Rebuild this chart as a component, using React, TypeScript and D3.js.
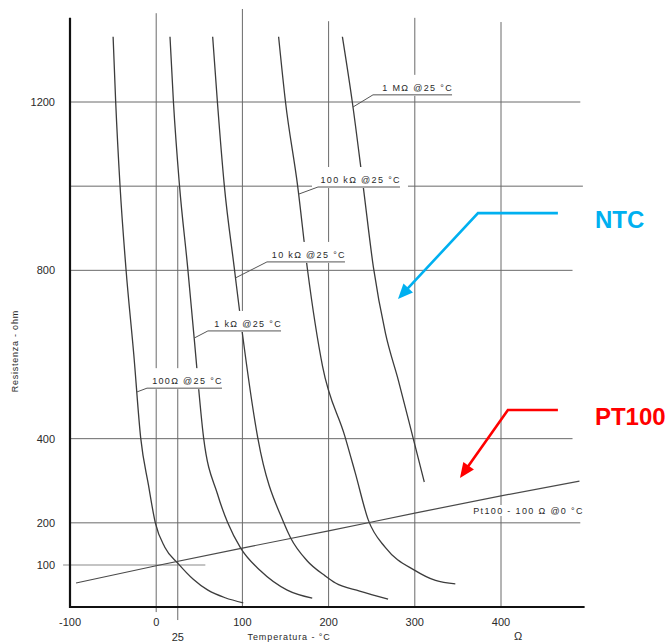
import React from 'react';
import * as d3 from 'd3';

// ---- data: temperature (°C) and resistance (Ω) ----
const ntc100Temps = [-50, -47, -42, -35, -26, -18, -9, -1, 10, 26, 43, 60, 80, 101];
const ntc100Ohms = [1355, 1200, 1002, 802, 600, 402, 290, 200, 142, 102, 66, 40, 22, 10];
const ntc1kTemps = [16, 20, 27, 36.5, 44, 55, 71, 83, 98, 121, 152, 181];
const ntc1kOhms = [1355, 1200, 1002, 807, 640, 402, 269, 200, 140, 86, 40, 21];
const ntc10kTemps = [65.5, 71, 79, 90.5, 100, 118, 148, 156, 175, 196, 208, 236, 269];
const ntc10kOhms = [1355, 1200, 1002, 807, 650, 400, 200, 164, 110, 74, 57, 38, 19];
const ntc100kTemps = [142, 150, 164, 175.5, 193, 219, 231, 246, 266, 300, 324, 347];
const ntc100kOhms = [1355, 1200, 1002, 802, 572, 405, 318, 207, 141, 87, 63, 55];
const ntc1MTemps = [216, 227.5, 240, 252, 266, 281, 298, 311];
const ntc1MOhms = [1355, 1200, 1002, 807, 650, 538, 402, 297];
const pt100Temps = [-93, 0, 100, 200, 300, 400, 491];
const pt100Ohms = [57, 98, 140, 181, 223, 264, 299];

const ntcNames = ['100Ω @25 °C', '1 kΩ @25 °C', '10 kΩ @25 °C', '100 kΩ @25 °C', '1 MΩ @25 °C'];
const ptName = 'Pt100 - 100 Ω @0 °C';
// label underline start / end (°C) and level (Ω), pointer target level on curve (Ω)
const ntcLabelTemps = [-10.7, 60, 128.5, 187.7, 251.5];
const ntcLabelEndTemps = [76.3, 144.8, 219, 282.8, 343.2];
const ntcLabelOhms = [520, 656, 820, 998, 1217];
const ntcPointerOhms = [511, 639, 782, 981, 1188];
const ptLabelEndTemp = 495;
const ptLabelOhm = 221;

const xTicks = [-100, 0, 100, 200, 300, 400];
const xExtraTick = 25;
const yTicks = [100, 200, 400, 800, 1200];
const yGrid = [200, 400, 800, 1000, 1200];
const yGridEnds = [492, 483, 483, 495, 492];
const xGrid = [0, 25, 100, 200, 300, 400];
const xGridTops = [1411, 1000, 1421, 1392, 1400, 1390];
const xGridBottoms = [-12, -31, 0, 0, 0, 0];

// callouts (°C, Ω)
const ntcArrowTemps = [466, 373.3, 280.5];
const ntcArrowOhms = [936, 936, 732];
const ptArrowTemps = [466, 408, 352.4];
const ptArrowOhms = [468, 468, 306.6];
const calloutTemp = 509;
const ntcCalloutOhm = 901;
const ptCalloutOhm = 432;

const FONT = "'Liberation Sans', Arial, Helvetica, sans-serif";

type P = [number, number];
const zip = (a: number[], b: number[]): P[] => a.map((v, i) => [v, b[i]] as P);

function tempAtOhm(series: P[], r: number): number {
  for (let i = 0; i < series.length - 1; i++) {
    const [t0, r0] = series[i];
    const [t1, r1] = series[i + 1];
    if ((r0 >= r && r >= r1) || (r0 <= r && r <= r1)) {
      const f = (r - r0) / (r1 - r0);
      return t0 + f * (t1 - t0);
    }
  }
  return series[0][0];
}

export default function App() {
  const x = d3.scaleLinear().domain([-100, 400]).range([70, 501]);
  const y = d3.scaleLinear().domain([0, 1200]).range([607, 102]);
  const curve = d3
    .line<P>()
    .x((d) => x(d[0]))
    .y((d) => y(d[1]))
    .curve(d3.curveMonotoneX);
  const straight = d3.line<P>().x((d) => d[0]).y((d) => d[1]);

  const ntcSeries: P[][] = [
    zip(ntc100Temps, ntc100Ohms),
    zip(ntc1kTemps, ntc1kOhms),
    zip(ntc10kTemps, ntc10kOhms),
    zip(ntc100kTemps, ntc100kOhms),
    zip(ntc1MTemps, ntc1MOhms),
  ];
  const ptSeries = zip(pt100Temps, pt100Ohms);

  const arrow = (temps: number[], ohms: number[]) => {
    const px: P[] = temps.map((t, i) => [x(t), y(ohms[i])]);
    const n = px.length;
    const [tx, ty] = px[n - 1];
    const [sx, sy] = px[n - 2];
    const dx = tx - sx;
    const dy = ty - sy;
    const L = Math.hypot(dx, dy);
    const ux = dx / L;
    const uy = dy / L;
    const len = 15;
    const half = 6.5;
    const bx = tx - ux * len;
    const by = ty - uy * len;
    const head = `M${tx},${ty}L${bx - uy * half},${by + ux * half}L${bx + uy * half},${by - ux * half}Z`;
    const shaft = straight([...px.slice(0, n - 1), [bx + ux * 2, by + uy * 2]]) || '';
    return { shaft, head };
  };
  const ntcArrow = arrow(ntcArrowTemps, ntcArrowOhms);
  const ptArrow = arrow(ptArrowTemps, ptArrowOhms);

  const x0 = x(-100);
  const yAxisTop = y(1400);
  const xAxisRight = x(497);
  const yBase = y(0);

  const gridColor = '#6a6a6a';
  const curveColor = '#3c3c3c';
  const textColor = '#2a2a2a';

  const ptEndX = x(ptLabelEndTemp);
  const ptBaseY = y(ptLabelOhm);

  return (
    <svg
      width={670}
      height={643}
      style={{ position: 'absolute', left: 0, top: 0, background: '#fff' }}
      fontFamily={FONT}
    >
      <rect x={0} y={0} width={670} height={643} fill="#fff" />

      {/* horizontal grid */}
      {yGrid.map((v, i) => (
        <line
          key={'hg' + v}
          x1={x0}
          x2={x(yGridEnds[i])}
          y1={y(v)}
          y2={y(v)}
          stroke={gridColor}
          strokeWidth={1}
        />
      ))}
      {/* partial 100 Ω reference line */}
      <line x1={x(-108)} x2={x(57)} y1={y(100)} y2={y(100)} stroke="#b0b0b0" strokeWidth={1.5} />

      {/* vertical grid */}
      {xGrid.map((v, i) => (
        <line
          key={'vg' + v}
          x1={x(v)}
          x2={x(v)}
          y1={y(xGridTops[i])}
          y2={y(xGridBottoms[i])}
          stroke={gridColor}
          strokeWidth={1}
        />
      ))}

      {/* NTC curves */}
      {ntcSeries.map((s, i) => (
        <path key={'ntc' + i} d={curve(s) || ''} fill="none" stroke={curveColor} strokeWidth={1.3} />
      ))}

      {/* PT100 line */}
      <path d={curve(ptSeries) || ''} fill="none" stroke="#4a4a4a" strokeWidth={1.2} />

      {/* NTC labels with pointers */}
      {ntcNames.map((name, i) => {
        const ux1 = x(ntcLabelTemps[i]);
        const ux2 = x(ntcLabelEndTemps[i]);
        const uy = y(ntcLabelOhms[i]);
        const pr = ntcPointerOhms[i];
        const pt = tempAtOhm(ntcSeries[i], pr);
        return (
          <g key={'lab' + i}>
            <rect x={ux1 - 6} y={uy - 20} width={ux2 - ux1 + 14} height={21} fill="#fff" />
            <line x1={ux1} x2={ux2} y1={uy} y2={uy} stroke="#555" strokeWidth={1} />
            <line x1={ux1} y1={uy} x2={x(pt)} y2={y(pr)} stroke="#555" strokeWidth={1} />
            <text
              x={ux2 + 1}
              y={uy - 4}
              textAnchor="end"
              fontSize={9}
              letterSpacing={1.35}
              fill={textColor}
            >
              {name}
            </text>
          </g>
        );
      })}

      {/* PT100 label */}
      <rect x={ptEndX - 114} y={ptBaseY - 9} width={116} height={11} fill="#fff" />
      <text x={ptEndX + 1} y={ptBaseY} textAnchor="end" fontSize={9} letterSpacing={1.35} fill={textColor}>
        {ptName}
      </text>

      {/* axes */}
      <line x1={x0} x2={x0} y1={yAxisTop} y2={yBase + 1} stroke="#111" strokeWidth={2.2} />
      <line x1={x0 - 1} x2={xAxisRight} y1={yBase} y2={yBase} stroke="#111" strokeWidth={2.2} />

      {/* y tick labels */}
      {yTicks.map((v) => (
        <text
          key={'yt' + v}
          x={x0 - 15}
          y={y(v)}
          dy="0.35em"
          textAnchor="end"
          fontSize={11}
          fill={textColor}
        >
          {v}
        </text>
      ))}

      {/* x tick labels */}
      {xTicks.map((v) => (
        <text key={'xt' + v} x={x(v)} y={yBase + 19} textAnchor="middle" fontSize={11} fill={textColor}>
          {v}
        </text>
      ))}
      <text x={x(xExtraTick)} y={yBase + 34} textAnchor="middle" fontSize={11} fill={textColor}>
        {xExtraTick}
      </text>
      <text x={x(420)} y={yBase + 33} textAnchor="middle" fontSize={11} fill={textColor}>
        Ω
      </text>
      <text x={x(106)} y={yBase + 33} fontSize={9} letterSpacing={0.9} fill={textColor}>
        Temperatura - °C
      </text>
      <text
        transform={`translate(${x0 - 55},${y(608)}) rotate(-90)`}
        textAnchor="middle"
        dy="0.35em"
        fontSize={9}
        letterSpacing={0.75}
        fill={textColor}
      >
        Resistenza - ohm
      </text>

      {/* callouts */}
      <path d={ntcArrow.shaft} fill="none" stroke="#00B0F0" strokeWidth={2.6} />
      <path d={ntcArrow.head} fill="#00B0F0" />
      <path d={ptArrow.shaft} fill="none" stroke="#FF0000" strokeWidth={2.6} />
      <path d={ptArrow.head} fill="#FF0000" />
      <text x={x(calloutTemp)} y={y(ntcCalloutOhm)} fontSize={24} fontWeight="bold" fill="#00B0F0">
        NTC
      </text>
      <text x={x(calloutTemp)} y={y(ptCalloutOhm)} fontSize={24} fontWeight="bold" fill="#FF0000">
        PT100
      </text>
    </svg>
  );
}
